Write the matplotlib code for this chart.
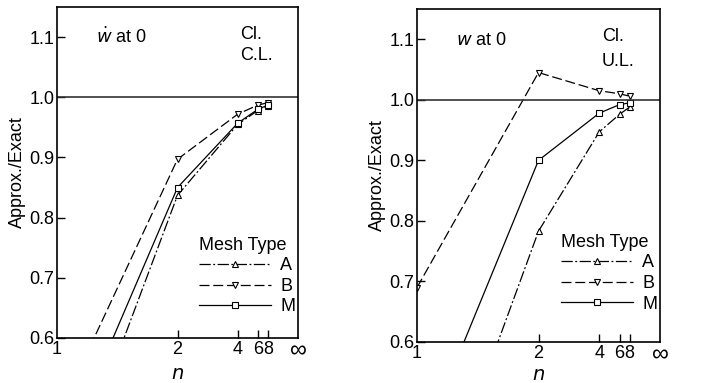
import numpy as np
import matplotlib
matplotlib.use("Agg")
from matplotlib import pyplot as plt

plt.rcParams['font.family'] = ['Liberation Sans Narrow', 'Liberation Sans', 'DejaVu Sans']
plt.rcParams['font.size'] = 12

# mesh sizes n (x is plotted as 1 - 1/n so that n = inf sits at the right edge)
n_vals = [1, 2, 4, 6, 8]
tick_n = [1, 2, 4, 6, 8]
tick_lab = ['1', '2', '4', '6', '8', '\u221e']

# left panel: Cl. C.L.
A_cl = [0.303, 0.837, 0.955, 0.978, 0.986]
B_cl = [0.468, 0.897, 0.972, 0.987, 0.991]
M_cl = [0.383, 0.850, 0.957, 0.980, 0.987]

# right panel: Cl. U.L.
A_ul = [0.235, 0.783, 0.947, 0.976, 0.988]
B_ul = [0.690, 1.045, 1.015, 1.010, 1.006]
M_ul = [0.411, 0.900, 0.978, 0.992, 0.995]


def xpos(n):
    return 1.0 - 1.0 / np.asarray(n, dtype=float)


fig = plt.figure(figsize=(7.08, 3.83), dpi=100)
ax1 = fig.add_axes([57/708, 1 - 338/383, 241/708, 331/383])
ax2 = fig.add_axes([417/708, 1 - 342/383, 243/708, 333/383])

styles = {
    'A': dict(ls=(0, (9, 2, 1.5, 2)), marker='^'),
    'B': dict(ls=(0, (8, 3)), marker='v'),
    'M': dict(ls='-', marker='s'),
}


def panel(ax, a, b, m, label, case, lab_y, case_y, case_sp, leg_y, xpad):
    x = xpos(n_vals)
    for name, vals in (('A', a), ('B', b), ('M', m)):
        st = styles[name]
        ax.plot(x, vals, color='k', lw=0.9, ls=st['ls'], marker=st['marker'],
                ms=4, mfc='white', mec='k', mew=0.8, label=name)
    ax.axhline(1.0, color='#333333', lw=1.2)
    ax.set_xlim(0, 1)
    ax.set_ylim(0.6, 1.15)
    ax.set_yticks([0.6, 0.7, 0.8, 0.9, 1.0, 1.1])
    ax.set_yticklabels(['0.6', '0.7', '0.8', '0.9', '1.0', '1.1'])
    ax.set_xticks(list(xpos(tick_n)) + [1.0])
    ax.set_xticklabels(tick_lab)
    ax.tick_params(direction='in', length=6, width=1, labelsize=13, pad=2)
    ax.get_xticklabels()[-1].set_fontsize(17)
    xt = ax.get_xticklines()
    # no visible tick marks at the two ends
    xt[0].set_visible(False)
    xt[-2].set_visible(False)
    for s in ax.spines.values():
        s.set_linewidth(1.2)
    ax.set_ylabel('Approx./Exact', fontsize=13, labelpad=2)
    ax.set_xlabel('$n$', fontsize=14, labelpad=xpad)
    ax.text(0.16, lab_y, label, transform=ax.transAxes, fontsize=13, va='center')
    ax.text(0.76, case_y, 'Cl.\n' + case, transform=ax.transAxes, fontsize=13,
            va='center', linespacing=case_sp)
    leg = ax.legend(title='Mesh Type', loc='lower right', bbox_to_anchor=(1.04, leg_y),
                    frameon=False, handlelength=4.0, numpoints=1, fontsize=13,
                    title_fontsize=13, labelspacing=0.2, handletextpad=0.5,
                    borderaxespad=0.3)
    leg._legend_box.align = 'left'


panel(ax1, A_cl, B_cl, M_cl, r'$\dot{w}$ at 0', 'C.L.', 0.91, 0.885, 1.25, 0.03, 2)
panel(ax2, A_ul, B_ul, M_ul, r'$w$ at 0', 'U.L.', 0.905, 0.88, 1.55, 0.05, 0)

fig.savefig('out.png', dpi=100)
